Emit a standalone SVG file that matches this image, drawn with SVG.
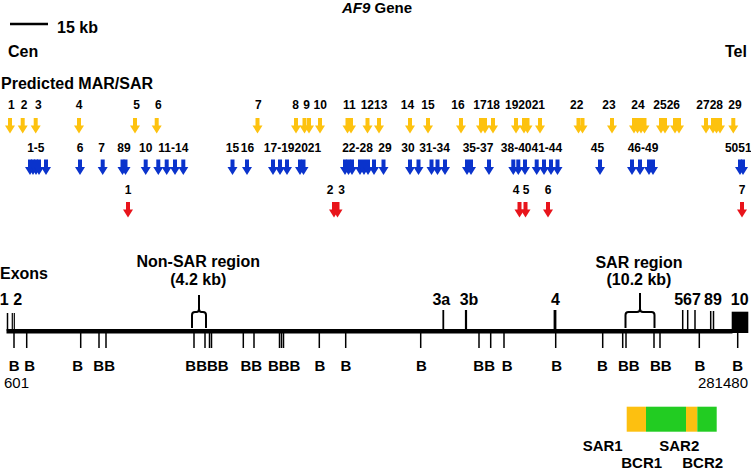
<svg xmlns="http://www.w3.org/2000/svg" width="751" height="470" viewBox="0 0 751 470">
<style>
text{font-family:"Liberation Sans",Arial,Helvetica,sans-serif;font-weight:bold;fill:#000}
.h{font-size:16px}
.n{font-size:12px;text-anchor:middle}
.e{font-size:16px;text-anchor:middle}
.b{font-size:15px;text-anchor:middle}
.r{font-weight:normal;font-size:15px}
.t{stroke:#000;stroke-width:1.5;fill:none}
.ya{fill:#FDC20F}
.ba{fill:#0A33CC}
.ra{fill:#E8141B}
.sy{fill:#FDC010}
.sg{fill:#22CC22}
.br{stroke:#000;stroke-width:2;fill:none}
</style>
<defs>
<path id="ar" d="M-2,0H2V7.5H5L0,15.5L-5,7.5H-2Z"/>
</defs>
<rect width="751" height="470" fill="#fff"/>
<g id="header">
<text x="377" y="13" text-anchor="middle" font-size="15"><tspan font-style="italic">AF9</tspan> Gene</text>
<line x1="10" y1="24" x2="48" y2="24" stroke="#000" stroke-width="2.6"/>
<text class="h" x="57" y="32.5">15 kb</text>
<text class="h" x="8" y="57">Cen</text>
<text class="h" x="725" y="57">Tel</text>
<text class="h" x="1" y="89">Predicted MAR/SAR</text>
</g>
<g id="yellow-row">
<text class="n" x="11.3" y="109">1</text><text class="n" x="24" y="109">2</text><text class="n" x="38.3" y="109">3</text>
<text class="n" x="79" y="109">4</text><text class="n" x="136.7" y="109">5</text><text class="n" x="158.3" y="109">6</text>
<text class="n" x="258.3" y="109">7</text><text class="n" x="295.5" y="109">8</text><text class="n" x="306.5" y="109">9</text>
<text class="n" x="320.3" y="109">10</text><text class="n" x="349.3" y="109">11</text><text class="n" x="374" y="109">1213</text>
<text class="n" x="407.5" y="109">14</text><text class="n" x="428" y="109">15</text><text class="n" x="458" y="109">16</text>
<text class="n" x="486.7" y="109">1718</text><text class="n" x="525" y="109">192021</text><text class="n" x="576.7" y="109">22</text>
<text class="n" x="609" y="109">23</text><text class="n" x="638" y="109">24</text><text class="n" x="666.7" y="109">2526</text>
<text class="n" x="709.7" y="109">2728</text><text class="n" x="735" y="109">29</text>
<g class="ya">
<use href="#ar" x="10" y="118"/><use href="#ar" x="22.7" y="118"/><use href="#ar" x="35.7" y="118"/>
<use href="#ar" x="79" y="118"/><use href="#ar" x="135" y="118"/><use href="#ar" x="156.7" y="118"/>
<use href="#ar" x="257.5" y="118"/><use href="#ar" x="296" y="118"/><use href="#ar" x="304.5" y="118"/>
<use href="#ar" x="309" y="118"/><use href="#ar" x="320" y="118"/><use href="#ar" x="347.5" y="118"/>
<use href="#ar" x="351" y="118"/><use href="#ar" x="367.5" y="118"/><use href="#ar" x="379" y="118"/>
<use href="#ar" x="410" y="118"/><use href="#ar" x="428" y="118"/><use href="#ar" x="461" y="118"/>
<use href="#ar" x="481" y="118"/><use href="#ar" x="485" y="118"/><use href="#ar" x="493" y="118"/>
<use href="#ar" x="516" y="118"/><use href="#ar" x="524" y="118"/><use href="#ar" x="527.5" y="118"/>
<use href="#ar" x="540" y="118"/><use href="#ar" x="578.5" y="118"/><use href="#ar" x="582.5" y="118"/>
<use href="#ar" x="612" y="118"/><use href="#ar" x="634" y="118"/><use href="#ar" x="637.5" y="118"/>
<use href="#ar" x="641" y="118"/><use href="#ar" x="644.5" y="118"/><use href="#ar" x="661" y="118"/>
<use href="#ar" x="665" y="118"/><use href="#ar" x="675" y="118"/><use href="#ar" x="679" y="118"/>
<use href="#ar" x="706" y="118"/><use href="#ar" x="713" y="118"/><use href="#ar" x="716.5" y="118"/>
<use href="#ar" x="720" y="118"/><use href="#ar" x="733.3" y="118"/>
</g>
</g>
<g id="blue-row">
<text class="n" x="35.8" y="151.5">1-5</text><text class="n" x="80" y="151.5">6</text><text class="n" x="101.7" y="151.5">7</text>
<text class="n" x="124" y="151.5">89</text><text class="n" x="145.8" y="151.5">10</text><text class="n" x="173.3" y="151.5">11-14</text>
<text class="n" x="232.5" y="151.5">15</text><text class="n" x="247.5" y="151.5">16</text><text class="n" x="292.5" y="151.5">17-192021</text>
<text class="n" x="357.5" y="151.5">22-28</text><text class="n" x="385" y="151.5">29</text><text class="n" x="408" y="151.5">30</text>
<text class="n" x="434.5" y="151.5">31-34</text><text class="n" x="478" y="151.5">35-37</text><text class="n" x="531.5" y="151.5">38-4041-44</text>
<text class="n" x="597.5" y="151.5">45</text><text class="n" x="643" y="151.5">46-49</text><text class="n" x="738.3" y="151.5">5051</text>
<g class="ba">
<use href="#ar" x="30" y="159.5"/><use href="#ar" x="33" y="159.5"/><use href="#ar" x="36" y="159.5"/>
<use href="#ar" x="39" y="159.5"/><use href="#ar" x="46" y="159.5"/><use href="#ar" x="80" y="159.5"/>
<use href="#ar" x="102.7" y="159.5"/><use href="#ar" x="122.5" y="159.5"/><use href="#ar" x="125.5" y="159.5"/>
<use href="#ar" x="145.7" y="159.5"/><use href="#ar" x="158.3" y="159.5"/><use href="#ar" x="166.7" y="159.5"/>
<use href="#ar" x="175" y="159.5"/><use href="#ar" x="183.3" y="159.5"/><use href="#ar" x="232.5" y="159.5"/>
<use href="#ar" x="247" y="159.5"/><use href="#ar" x="273" y="159.5"/><use href="#ar" x="280" y="159.5"/>
<use href="#ar" x="287" y="159.5"/><use href="#ar" x="300" y="159.5"/><use href="#ar" x="303.5" y="159.5"/>
<use href="#ar" x="345" y="159.5"/><use href="#ar" x="348.5" y="159.5"/><use href="#ar" x="352" y="159.5"/>
<use href="#ar" x="360" y="159.5"/><use href="#ar" x="364" y="159.5"/><use href="#ar" x="368" y="159.5"/>
<use href="#ar" x="374" y="159.5"/><use href="#ar" x="383.5" y="159.5"/><use href="#ar" x="410" y="159.5"/>
<use href="#ar" x="418.5" y="159.5"/><use href="#ar" x="431.5" y="159.5"/><use href="#ar" x="437.5" y="159.5"/>
<use href="#ar" x="445" y="159.5"/><use href="#ar" x="467" y="159.5"/><use href="#ar" x="471" y="159.5"/>
<use href="#ar" x="489" y="159.5"/><use href="#ar" x="513.3" y="159.5"/><use href="#ar" x="518.3" y="159.5"/>
<use href="#ar" x="525" y="159.5"/><use href="#ar" x="536.7" y="159.5"/><use href="#ar" x="544" y="159.5"/>
<use href="#ar" x="551" y="159.5"/><use href="#ar" x="557.5" y="159.5"/><use href="#ar" x="600" y="159.5"/>
<use href="#ar" x="632" y="159.5"/><use href="#ar" x="640" y="159.5"/><use href="#ar" x="649" y="159.5"/>
<use href="#ar" x="653" y="159.5"/><use href="#ar" x="740" y="159.5"/><use href="#ar" x="743" y="159.5"/>
</g>
</g>
<g id="red-row">
<text class="n" x="128" y="193.5">1</text><text class="n" x="330" y="193.5">2</text><text class="n" x="341.5" y="193.5">3</text>
<text class="n" x="516" y="193.5">4</text><text class="n" x="526" y="193.5">5</text><text class="n" x="548" y="193.5">6</text>
<text class="n" x="742" y="193.5">7</text>
<g class="ra">
<use href="#ar" x="128" y="202"/><use href="#ar" x="334" y="202"/><use href="#ar" x="337.5" y="202"/>
<use href="#ar" x="519.5" y="202"/><use href="#ar" x="525.5" y="202"/><use href="#ar" x="548" y="202"/>
<use href="#ar" x="742" y="202"/>
</g>
</g>
<g id="gene-map">
<text class="h" x="0" y="278.5">Exons</text>
<text class="e" x="198.3" y="267">Non-SAR region</text>
<text class="e" x="198.3" y="284.5">(4.2 kb)</text>
<text class="e" x="639" y="267.5">SAR region</text>
<text class="e" x="639" y="284.5">(10.2 kb)</text>
<text class="e" x="4.2" y="304.5">1</text><text class="e" x="17.8" y="304.5">2</text>
<text class="e" x="441.3" y="304.5">3a</text><text class="e" x="469" y="304.5">3b</text>
<text class="e" x="555.5" y="304.5">4</text><text class="e" x="687.5" y="304.5">567</text>
<text class="e" x="713" y="304.5">89</text><text class="e" x="739.7" y="304.5">10</text>
<rect x="6.5" y="329" width="726" height="4.5" fill="#000"/>
<rect x="731.7" y="311.7" width="16.6" height="21.3" fill="#000"/>
<g class="t">
<line x1="7.5" y1="313" x2="7.5" y2="331"/>
<line x1="12.3" y1="313" x2="12.3" y2="330" stroke-width="1.2"/>
<line x1="14.3" y1="313" x2="14.3" y2="330" stroke-width="1.2"/>
<line x1="443.3" y1="310" x2="443.3" y2="330" stroke-width="1.8"/>
<line x1="466" y1="310" x2="466" y2="330" stroke-width="2.2"/>
<line x1="555" y1="310" x2="555" y2="330" stroke-width="2.8"/>
<line x1="682.7" y1="310" x2="682.7" y2="330"/>
<line x1="687.7" y1="310" x2="687.7" y2="330"/>
<line x1="695" y1="310" x2="695" y2="330"/>
<line x1="710.7" y1="311" x2="710.7" y2="330"/>
<line x1="713.5" y1="311" x2="713.5" y2="330"/>
</g>
<g class="t">
<line x1="14" y1="333" x2="14" y2="348"/><line x1="26.7" y1="333" x2="26.7" y2="348"/>
<line x1="80.7" y1="333" x2="80.7" y2="348"/><line x1="99" y1="333" x2="99" y2="348"/>
<line x1="106" y1="333" x2="106" y2="348"/><line x1="194" y1="333" x2="194" y2="348"/>
<line x1="205" y1="333" x2="205" y2="348"/><line x1="209.5" y1="333" x2="209.5" y2="348"/>
<line x1="211.5" y1="333" x2="211.5" y2="348"/><line x1="243.3" y1="333" x2="243.3" y2="348"/>
<line x1="254" y1="333" x2="254" y2="348"/><line x1="279.5" y1="333" x2="279.5" y2="348"/>
<line x1="281.5" y1="333" x2="281.5" y2="348"/><line x1="283.5" y1="333" x2="283.5" y2="348"/>
<line x1="319.3" y1="333" x2="319.3" y2="348"/><line x1="345.7" y1="333" x2="345.7" y2="348"/>
<line x1="420.7" y1="333" x2="420.7" y2="348"/><line x1="479" y1="333" x2="479" y2="348"/>
<line x1="490.7" y1="333" x2="490.7" y2="348"/><line x1="504" y1="333" x2="504" y2="348"/>
<line x1="555.7" y1="333" x2="555.7" y2="348"/><line x1="602.7" y1="333" x2="602.7" y2="348"/>
<line x1="622.7" y1="333" x2="622.7" y2="348"/><line x1="626" y1="333" x2="626" y2="348"/>
<line x1="654" y1="333" x2="654" y2="348"/><line x1="660" y1="333" x2="660" y2="348"/>
<line x1="699.3" y1="333" x2="699.3" y2="348"/><line x1="737.7" y1="333" x2="737.7" y2="348"/>
</g>
<path class="br" d="M199,295V309M192,328V315Q192,312 195,312H196.5Q199,312 199,309Q199,312 201.5,312H203Q206,312 206,315V328"/>
<path class="br" d="M640,293V309M625.5,328V315Q625.5,312 628.5,312H637Q640,312 640,309Q640,312 643,312H651.5Q654.5,312 654.5,315V328"/>
<text class="b" x="14.2" y="371">B</text><text class="b" x="29.7" y="371">B</text><text class="b" x="77.7" y="371">B</text>
<text class="b" x="104.2" y="371">BB</text><text class="b" x="207" y="371">BBBB</text><text class="b" x="251.3" y="371">BB</text>
<text class="b" x="284.2" y="371">BBB</text><text class="b" x="320" y="371">B</text><text class="b" x="346" y="371">B</text>
<text class="b" x="421.3" y="371">B</text><text class="b" x="484.2" y="371">BB</text><text class="b" x="507.2" y="371">B</text>
<text class="b" x="556.7" y="371">B</text><text class="b" x="602.5" y="371">B</text><text class="b" x="628.8" y="371">BB</text>
<text class="b" x="660.8" y="371">BB</text><text class="b" x="700" y="371">B</text><text class="b" x="737.7" y="371">B</text>
<text class="r" x="4" y="388">601</text>
<text class="r" x="748" y="388" text-anchor="end">281480</text>
</g>
<g id="sar-box">
<rect class="sy" x="626.7" y="406.7" width="19.3" height="25"/>
<rect class="sg" x="646" y="406.7" width="40" height="25"/>
<rect class="sy" x="686" y="406.7" width="11.3" height="25"/>
<rect class="sg" x="697.3" y="406.7" width="19.4" height="25"/>
<text class="b" x="602.7" y="451" text-anchor="start">SAR1</text>
<text class="b" x="641.7" y="467.5" text-anchor="start">BCR1</text>
<text class="b" x="679.3" y="451" text-anchor="start">SAR2</text>
<text class="b" x="702.7" y="467.5" text-anchor="start">BCR2</text>
</g>
</svg>
